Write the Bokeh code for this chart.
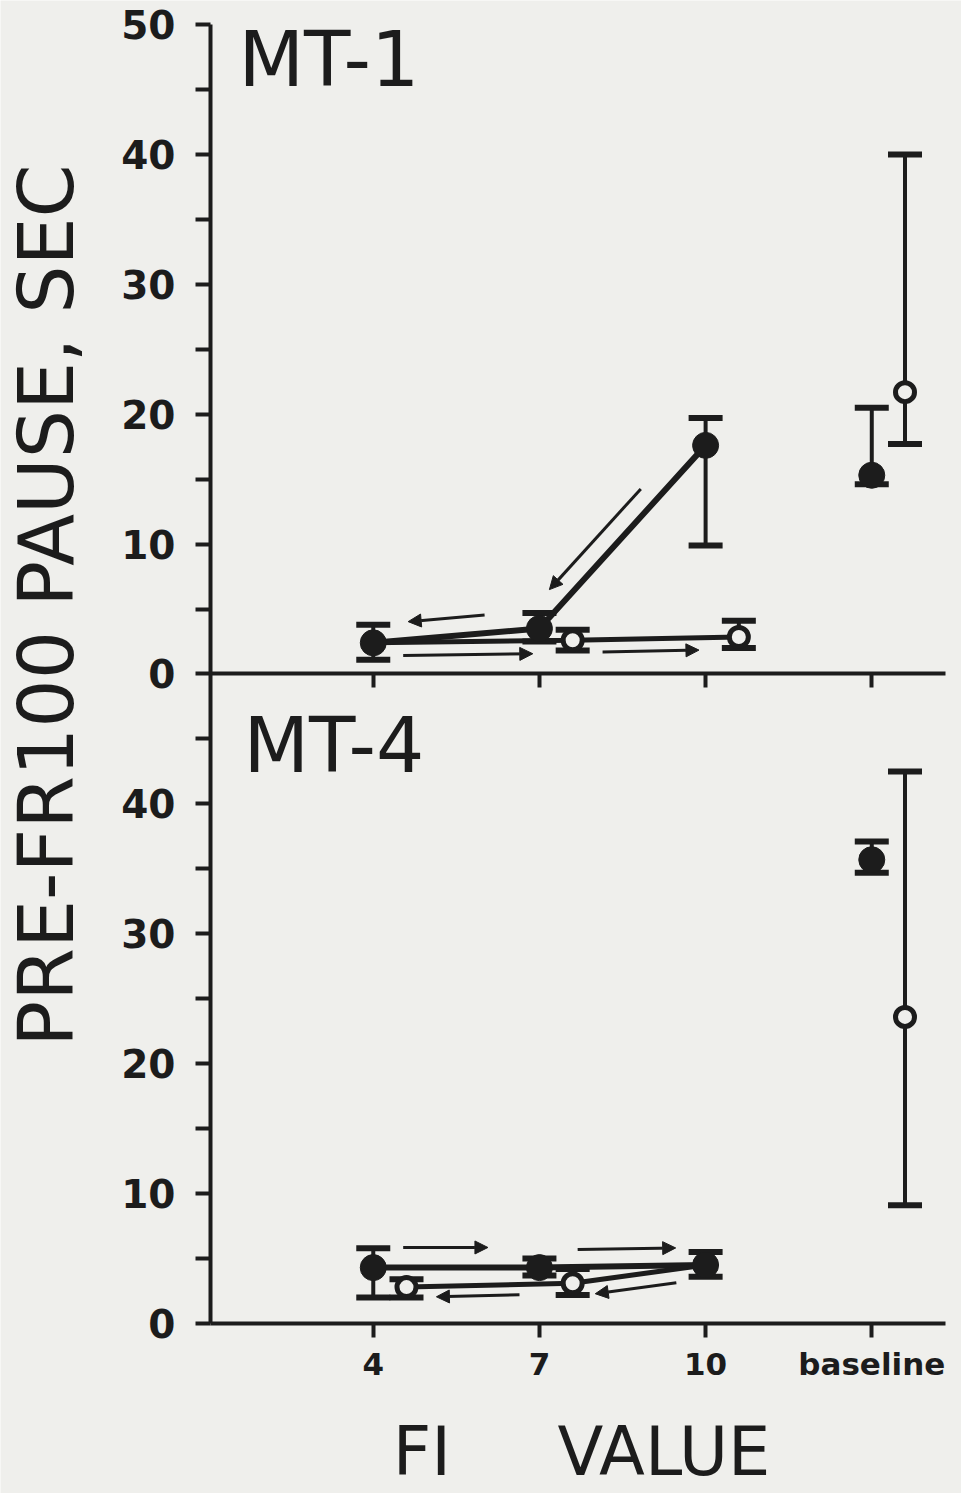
import math
from bokeh.plotting import figure
from bokeh.models import (Range1d, LinearAxis, FixedTicker, Whisker, TeeHead, Arrow,
                          NormalHead, ColumnDataSource, Label)
from bokeh.embed import file_html
from bokeh.resources import INLINE

# ---------------- data ----------------
FI_TICKS = [4, 7, 10, 13]                 # 13 = "baseline" column
FI_TICK_LABELS = ["4", "7", "10", "baseline"]
BASELINE_X = 13
Y_TICKS = [0, 10, 20, 30, 40, 50]
Y_MINOR = [5, 15, 25, 35, 45]
PANEL_SPAN = 50

# MT-1: first determination (filled, descending 10 -> 7 -> 4)
mt1_first_fi = [10, 7, 4]
mt1_first_mean = [17.6, 3.5, 2.4]
mt1_first_lo = [9.9, 2.5, 1.1]
mt1_first_hi = [19.7, 4.7, 3.8]
# MT-1: redetermination (open, ascending 4 -> 7 -> 10)
mt1_second_fi = [7, 10]
mt1_second_mean = [2.6, 2.85]
mt1_second_lo = [1.8, 2.0]
mt1_second_hi = [3.4, 4.1]
# MT-1 baseline
mt1_base_filled = [15.3, 14.6, 20.5]   # mean, lo, hi
mt1_base_open = [21.7, 17.7, 40.0]

# MT-4: first determination (filled, ascending 4 -> 7 -> 10)
mt4_first_fi = [4, 7, 10]
mt4_first_mean = [4.3, 4.3, 4.5]
mt4_first_lo = [2.0, 3.7, 3.6]
mt4_first_hi = [5.8, 5.0, 5.5]
# MT-4: redetermination (open, descending 10 -> 7 -> 4)
mt4_second_fi = [7, 4]
mt4_second_mean = [3.1, 2.8]
mt4_second_lo = [2.2, 2.0]
mt4_second_hi = [4.2, 3.4]
# MT-4 baseline
mt4_base_filled = [35.7, 34.7, 37.1]
mt4_base_open = [23.6, 9.1, 42.5]

# ---------------- style / layout ----------------
INK = "#1c1c1c"
PAPER = "#efefec"
OPEN_DX = 0.6
FONT = "DejaVu Sans"
X_LEFT, X_RIGHT = 1.06, 14.33          # extent of the drawn x axes
W, H = 961, 1493

# direction arrows: (pass, segment index, start fraction, end fraction, vertical offset)
MT1_ARROWS = [("first", 0, 0.39, 0.94, 2.15), ("first", 1, 0.33, 0.79, 1.4),
              ("second", 0, 0.15, 0.80, -1.0), ("second", 1, 0.18, 0.76, -0.95)]
MT4_ARROWS = [("first", 0, 0.18, 0.69, 1.55), ("first", 1, 0.23, 0.82, 1.35),
              ("second", 0, 0.22, 0.83, -1.05), ("second", 1, 0.32, 0.82, -0.8)]

p = figure(width=W, height=H,
           x_range=Range1d(-2.73, 14.62), y_range=Range1d(-13.09, 101.85),
           x_axis_location=None, y_axis_location=None,
           output_backend="svg", toolbar_location=None, min_border=0,
           background_fill_color=PAPER, border_fill_color=PAPER,
           outline_line_color=None)
p.extra_y_ranges = {"top": Range1d(-13.09 - PANEL_SPAN, 101.85 - PANEL_SPAN)}
p.grid.visible = False

# y axis shared by both panels (bottom 0..50, top 0..50 stacked)
yticks = [t for t in Y_TICKS if t < PANEL_SPAN] + [t + PANEL_SPAN for t in Y_TICKS]
yminor = Y_MINOR + [t + PANEL_SPAN for t in Y_MINOR]
overrides = {t: str(t) for t in Y_TICKS if t < PANEL_SPAN}
overrides.update({t + PANEL_SPAN: str(t) for t in Y_TICKS})
yax = LinearAxis(fixed_location=X_LEFT, bounds=(0, 2 * PANEL_SPAN),
                 ticker=FixedTicker(ticks=yticks, minor_ticks=yminor),
                 major_label_overrides=overrides,
                 axis_line_width=4, axis_line_color=INK,
                 major_tick_line_width=4, minor_tick_line_width=4,
                 major_tick_line_color=INK, minor_tick_line_color=INK,
                 major_tick_out=15, major_tick_in=0,
                 minor_tick_out=15, minor_tick_in=0,
                 major_label_standoff=20, major_label_text_font=FONT,
                 major_label_text_font_style="bold",
                 major_label_text_font_size="39px", major_label_text_color=INK)
p.add_layout(yax, "left")

# x axis of the lower panel (MT-4)
xax = LinearAxis(fixed_location=0, bounds=(X_LEFT, X_RIGHT),
                 ticker=FixedTicker(ticks=FI_TICKS),
                 major_label_overrides=dict(zip(FI_TICKS, FI_TICK_LABELS)),
                 axis_line_width=4, axis_line_color=INK,
                 major_tick_line_width=4, major_tick_line_color=INK,
                 major_tick_out=14, major_tick_in=0, minor_tick_line_color=None,
                 major_label_standoff=9, major_label_text_font=FONT,
                 major_label_text_font_style="bold",
                 major_label_text_font_size="31px", major_label_text_color=INK)
p.add_layout(xax, "below")

# x axis of the upper panel (MT-1), drawn at its y = 0
sep = LinearAxis(y_range_name="top", fixed_location=0, bounds=(X_LEFT, X_RIGHT),
                 ticker=FixedTicker(ticks=FI_TICKS),
                 axis_line_width=4, axis_line_color=INK,
                 major_tick_line_width=4, major_tick_line_color=INK,
                 major_tick_out=14, major_tick_in=0,
                 minor_tick_line_color=None, major_label_text_color=None)
p.add_layout(sep, "below")


def add_panel(rng, first_fi, first_mean, first_lo, first_hi,
              second_fi, second_mean, second_lo, second_hi,
              base_filled, base_open, arrows):
    fx = list(first_fi)
    fy = list(first_mean)
    sx = [first_fi[-1]] + [f + OPEN_DX for f in second_fi]
    sy = [first_mean[-1]] + list(second_mean)

    wx = fx + [f + OPEN_DX for f in second_fi] + [BASELINE_X, BASELINE_X + OPEN_DX]
    wlo = list(first_lo) + list(second_lo) + [base_filled[1], base_open[1]]
    whi = list(first_hi) + list(second_hi) + [base_filled[2], base_open[2]]
    wsrc = ColumnDataSource(dict(base=wx, lower=wlo, upper=whi))
    w = Whisker(base="base", lower="lower", upper="upper", source=wsrc,
                y_range_name=rng, level="underlay",
                line_color=INK, line_width=4,
                upper_head=TeeHead(size=34, line_width=6, line_color=INK),
                lower_head=TeeHead(size=34, line_width=6, line_color=INK))
    p.add_layout(w)

    p.line(fx, fy, line_width=6, line_color=INK, y_range_name=rng)
    p.line(sx, sy, line_width=5, line_color=INK, y_range_name=rng)

    paths = {"first": (fx, fy), "second": (sx, sy)}
    xs, ys, xe, ye = [], [], [], []
    for name, i, f0, f1, dy in arrows:
        px, py = paths[name]
        x0, y0, x1, y1 = px[i], py[i], px[i + 1], py[i + 1]
        xs.append(x0 + f0 * (x1 - x0))
        ys.append(y0 + f0 * (y1 - y0) + dy)
        xe.append(x0 + f1 * (x1 - x0))
        ye.append(y0 + f1 * (y1 - y0) + dy)
    asrc = ColumnDataSource(dict(xs=xs, ys=ys, xe=xe, ye=ye))
    p.add_layout(Arrow(x_start="xs", y_start="ys", x_end="xe", y_end="ye",
                       source=asrc, y_range_name=rng, line_width=3, line_color=INK,
                       end=NormalHead(size=13, fill_color=INK, line_color=INK,
                                      line_width=1)))

    p.scatter(fx + [BASELINE_X], fy + [base_filled[0]], marker="circle", size=26,
              fill_color=INK, line_color=INK, y_range_name=rng)
    p.scatter([f + OPEN_DX for f in second_fi] + [BASELINE_X + OPEN_DX],
              list(second_mean) + [base_open[0]], marker="circle", size=19,
              fill_color=PAPER, line_color=INK, line_width=5, y_range_name=rng)


add_panel("top", mt1_first_fi, mt1_first_mean, mt1_first_lo, mt1_first_hi,
          mt1_second_fi, mt1_second_mean, mt1_second_lo, mt1_second_hi,
          mt1_base_filled, mt1_base_open, MT1_ARROWS)
add_panel("default", mt4_first_fi, mt4_first_mean, mt4_first_lo, mt4_first_hi,
          mt4_second_fi, mt4_second_mean, mt4_second_lo, mt4_second_hi,
          mt4_base_filled, mt4_base_open, MT4_ARROWS)

# texts (screen units: from the frame's bottom-left corner, y upwards)
def screen_label(text, x, y, size, align="left", angle=0.0):
    p.add_layout(Label(x=x, y=y, x_units="screen", y_units="screen", text=text,
                       angle=angle, text_font=FONT, text_font_size=size,
                       text_color=INK, text_baseline="middle", text_align=align))


screen_label("MT-1", 238, H - 59, "76px")
screen_label("MT-4", 243, H - 745, "76px")
screen_label("PRE-FR100 PAUSE, SEC", 46, H - 605, "76px", align="center",
             angle=math.pi / 2)
screen_label("FI\u00a0\u00a0\u00a0\u00a0\u00a0VALUE", 581, H - 1451, "67px",
             align="center")

open("out.html", "w").write(file_html(p, INLINE))
